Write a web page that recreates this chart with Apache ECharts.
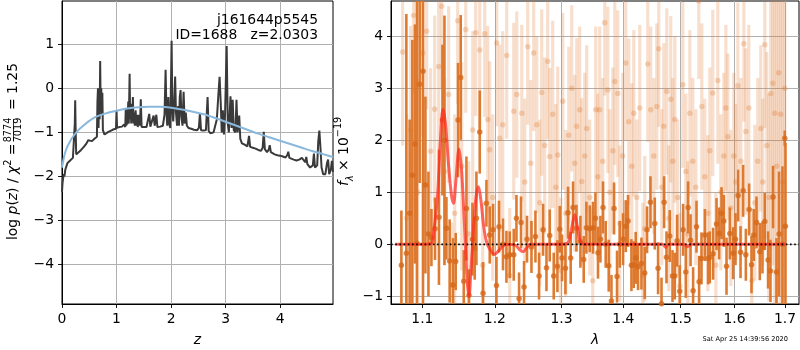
<!DOCTYPE html>
<html>
<head>
<meta charset="utf-8">
<script src="https://cdn.jsdelivr.net/npm/echarts@6/dist/echarts.min.js"></script>
<style>
  html, body { margin: 0; padding: 0; background: #fff; }
  #chart { width: 800px; height: 350px; }
</style>
</head>
<body>
<div id="chart"></div>
<script>
const FONT = 'DejaVu Sans';

// Tick positions
const zTicks = [0, 1, 2, 3, 4];
const logpTicks = [-4, -3, -2, -1, 0, 1];
const waveTicks = [1.1, 1.2, 1.3, 1.4, 1.5, 1.6, 1.7];
const fluxTicks = [-1, 0, 1, 2, 3, 4];

// Axis limits
const zRange = [0, 4.97];
const logpRange = [-4.90, 1.984];
const waveRange = [1.0593, 1.7289];
const fluxRange = [-1.147, 4.68];

// Redshift probability: [z, log p(z)]
const pz = [
  [0.000,-2.35],[0.010,-2.15],[0.020,-2.05],[0.030,-1.95],[0.045,-2.00],[0.060,-1.85],[0.080,-1.85],
  [0.100,-1.70],[0.120,-1.72],[0.140,-1.65],[0.170,-1.62],[0.200,-1.58],[0.225,-1.55],[0.235,-0.80],
  [0.242,-0.27],[0.250,-0.90],[0.260,-1.50],[0.300,-1.46],[0.350,-1.40],[0.400,-1.33],[0.450,-1.25],
  [0.480,-1.18],[0.500,-1.20],[0.550,-1.20],[0.600,-1.14],[0.640,-1.10],[0.650,-0.30],[0.660,0.00],
  [0.670,-0.90],[0.680,-0.20],[0.690,-0.70],[0.700,0.62],[0.710,-0.50],[0.720,0.00],[0.730,-0.60],
  [0.740,-0.10],[0.750,-0.95],[0.780,-1.05],[0.800,-1.03],[0.850,-0.99],[0.900,-0.96],[0.950,-0.93],
  [0.990,-0.92],[1.000,-0.50],[1.010,-0.90],[1.050,-0.88],[1.080,-0.85],[1.100,-0.87],[1.120,-0.85],
  [1.140,-0.82],[1.160,-0.88],[1.170,-0.45],[1.180,-0.85],[1.190,-0.55],[1.200,-0.82],[1.215,-0.30],
  [1.225,-0.80],[1.240,0.33],[1.250,-0.70],[1.260,-0.40],[1.270,-0.80],[1.280,-0.35],[1.290,-0.75],
  [1.300,-0.20],[1.310,-0.80],[1.320,-0.55],[1.335,-0.85],[1.350,-0.50],[1.365,-0.85],[1.380,-0.60],
  [1.390,-0.88],[1.410,-0.60],[1.430,-0.85],[1.445,-0.25],[1.460,-0.88],[1.500,-0.88],[1.550,-0.88],
  [1.580,-0.85],[1.600,-0.58],[1.620,-0.87],[1.650,-0.85],[1.680,-0.62],[1.700,-0.85],[1.730,-0.60],
  [1.750,-0.88],[1.800,-0.87],[1.850,-0.85],[1.880,-0.60],[1.900,0.42],[1.915,-0.50],[1.930,-0.85],
  [1.950,-0.20],[1.965,-0.80],[1.985,-0.90],[2.000,0.20],[2.010,1.08],[2.025,-0.55],[2.040,-0.75],
  [2.060,-0.25],[2.075,0.27],[2.090,-0.55],[2.110,-0.85],[2.130,-0.40],[2.145,-0.85],[2.160,-0.20],
  [2.175,-0.04],[2.190,-0.65],[2.210,-0.85],[2.230,-0.08],[2.250,-0.80],[2.270,-0.55],[2.290,-0.85],
  [2.320,-0.90],[2.370,-0.92],[2.420,-0.94],[2.480,-0.95],[2.510,-0.90],[2.530,-0.56],[2.550,-0.95],
  [2.600,-0.96],[2.640,-0.95],[2.670,-0.20],[2.690,-0.97],[2.720,-1.02],[2.750,-1.03],[2.780,-1.00],
  [2.810,-0.98],[2.840,-0.70],[2.870,-0.10],[2.890,0.26],[2.910,-0.30],[2.930,-1.00],[2.950,-0.50],
  [2.970,-1.05],[2.990,-0.60],[3.020,0.96],[3.040,-0.80],[3.060,-1.00],[3.090,-0.18],[3.110,-0.90],
  [3.130,-0.26],[3.150,-0.95],[3.180,-1.00],[3.200,-0.26],[3.220,-1.00],[3.250,-0.62],[3.270,-1.15],
  [3.300,-1.25],[3.350,-1.28],[3.400,-1.32],[3.430,-1.08],[3.450,-1.33],[3.500,-1.35],[3.550,-1.37],
  [3.600,-1.40],[3.650,-1.42],[3.680,-1.35],[3.700,-0.99],[3.720,-1.38],[3.760,-1.45],[3.790,-1.40],
  [3.810,-1.29],[3.830,-1.45],[3.900,-1.50],[3.950,-1.52],[4.000,-1.53],[4.050,-1.55],[4.100,-1.57],
  [4.130,-1.52],[4.150,-1.44],[4.170,-1.58],[4.250,-1.62],[4.300,-1.64],[4.350,-1.62],[4.400,-1.58],
  [4.430,-1.60],[4.460,-1.68],[4.480,-1.56],[4.500,-1.72],[4.550,-1.80],[4.600,-1.75],[4.620,-1.48],
  [4.640,-1.80],[4.680,-1.75],[4.700,-1.20],[4.720,-0.96],[4.740,-1.35],[4.760,-1.80],[4.790,-1.95],
  [4.830,-1.95],[4.860,-1.70],[4.880,-1.62],[4.900,-1.95],[4.930,-1.85],[4.950,-1.65],[4.970,-1.90]
];

// Redshift prior: [z, log prior]
const prior = [
  [0.00,-1.80],[0.03,-1.60],[0.06,-1.45],[0.10,-1.32],[0.15,-1.20],[0.20,-1.10],[0.30,-0.95],
  [0.40,-0.84],[0.50,-0.74],[0.60,-0.66],[0.80,-0.57],[1.00,-0.51],[1.20,-0.46],[1.40,-0.43],
  [1.60,-0.42],[1.80,-0.42],[2.00,-0.44],[2.20,-0.48],[2.40,-0.53],[2.60,-0.59],[2.80,-0.67],
  [3.00,-0.76],[3.20,-0.85],[3.40,-0.94],[3.60,-1.03],[3.80,-1.11],[4.00,-1.19],[4.20,-1.27],
  [4.40,-1.35],[4.60,-1.43],[4.80,-1.50],[4.97,-1.56]
];

// Spectrum (primary beam): [wavelength, flux, error]
const spec = [
  [1.0726,-0.40,1.05],[1.0790,-0.17,4.60],[1.0833,0.60,1.80],[1.0868,1.33,2.60],[1.0902,1.93,2.30],
  [1.0928,0.02,4.80],[1.0964,3.08,1.90],[1.1008,3.33,4.50],[1.1040,1.14,1.70],[1.1080,0.20,1.20],
  [1.1120,0.13,0.55],[1.1168,0.30,0.60],[1.1221,0.52,1.30],[1.1268,2.39,1.45],[1.1295,2.00,2.40],
  [1.1322,0.31,0.60],[1.1366,-0.32,0.80],[1.1412,-0.78,0.90],[1.1449,-0.33,0.55],[1.1481,2.39,1.10],
  [1.1518,3.21,1.20],[1.1560,-0.71,0.60],[1.1597,0.69,1.00],[1.1633,-0.98,0.50],[1.1681,0.10,0.70],
  [1.1713,-0.08,0.60],[1.1737,0.50,0.90],[1.1784,2.16,0.80],[1.1831,-0.94,0.60],[1.1879,0.79,0.45],
  [1.1926,0.18,0.55],[1.1974,0.28,0.50],[1.2023,-0.79,0.55],[1.2060,0.34,0.50],[1.2118,0.00,0.50],
  [1.2168,-0.24,0.50],[1.2216,-0.20,0.45],[1.2275,-0.20,0.50],[1.2315,0.50,0.45],[1.2354,-1.04,0.50],
  [1.2383,0.42,0.50],[1.2428,-0.82,0.50],[1.2472,0.10,0.45],[1.2539,-0.05,0.50],[1.2599,0.15,0.50],
  [1.2654,-0.61,0.45],[1.2715,0.28,0.50],[1.2767,-0.45,0.45],[1.2817,0.17,0.50],[1.2879,-0.61,0.45],
  [1.2936,-0.42,0.50],[1.2972,0.29,0.45],[1.3008,-0.26,0.45],[1.3061,-0.46,0.50],[1.3102,0.61,0.50],
  [1.3144,-0.26,0.50],[1.3181,0.71,0.50],[1.3235,0.31,0.45],[1.3298,0.05,0.50],[1.3351,-0.29,0.45],
  [1.3394,0.32,0.50],[1.3448,0.30,0.45],[1.3501,0.32,0.50],[1.3540,0.50,0.50],[1.3582,-0.16,0.50],
  [1.3621,0.10,0.45],[1.3664,0.71,0.50],[1.3708,0.00,0.45],[1.3758,-0.41,0.50],[1.3803,-1.09,0.50],
  [1.3846,0.69,0.50],[1.3896,-0.62,0.50],[1.3941,0.00,0.45],[1.3997,0.10,0.50],[1.4042,0.35,0.50],
  [1.4081,0.45,0.50],[1.4138,-0.40,0.50],[1.4177,-0.39,0.45],[1.4211,-0.26,0.50],[1.4251,-0.43,0.45],
  [1.4309,-0.37,0.50],[1.4366,-0.55,0.50],[1.4406,0.28,0.45],[1.4465,0.81,0.50],[1.4540,0.40,0.50],
  [1.4598,-0.46,0.50],[1.4658,-1.14,0.50],[1.4704,0.81,0.50],[1.4746,-0.25,0.50],[1.4804,0.16,0.50],
  [1.4853,-0.61,0.50],[1.4894,-0.61,0.45],[1.4935,0.07,0.50],[1.4983,-0.90,0.50],[1.5043,0.28,0.50],
  [1.5092,-0.53,0.50],[1.5134,0.71,0.50],[1.5178,0.08,0.50],[1.5225,-0.89,0.45],[1.5287,0.34,0.50],
  [1.5335,-0.72,0.50],[1.5379,-0.27,0.50],[1.5441,0.18,0.50],[1.5502,-0.27,0.50],[1.5533,-0.25,0.50],
  [1.5595,-0.18,0.50],[1.5659,0.39,0.50],[1.5708,0.21,0.50],[1.5753,0.60,0.50],[1.5797,0.45,0.50],
  [1.5848,-0.42,0.55],[1.5911,0.21,0.50],[1.5974,-0.17,0.50],[1.6020,0.10,0.50],[1.6070,0.94,0.50],
  [1.6117,-0.15,0.50],[1.6167,1.03,0.50],[1.6220,-0.20,0.50],[1.6284,0.67,0.50],[1.6331,-0.39,0.55],
  [1.6376,0.18,0.50],[1.6429,0.42,0.50],[1.6494,-0.14,0.55],[1.6547,-0.06,0.50],[1.6593,0.44,0.55],
  [1.6659,-0.30,0.55],[1.6707,-0.51,0.60],[1.6759,0.91,0.60],[1.6828,-0.53,0.65],[1.6880,0.20,1.20],
  [1.6949,0.00,1.50],[1.6996,2.04,0.15],[1.7010,0.35,1.60]
];

// Spectrum (second beam, drawn faint): [wavelength, flux, error]
const specOther = [
  [1.0742,3.70,1.80],[1.0794,0.50,2.00],[1.0846,2.20,2.00],[1.0885,4.40,1.50],[1.0938,1.00,2.20],
  [1.1004,3.68,1.60],[1.1056,4.10,1.50],[1.1109,1.79,1.60],[1.1163,2.60,1.80],[1.1217,3.42,1.80],
  [1.1257,4.58,1.60],[1.1298,1.40,1.80],[1.1352,2.88,1.70],[1.1393,-0.78,1.20],[1.1435,0.60,1.90],
  [1.1476,4.30,1.60],[1.1532,1.50,2.00],[1.1587,4.13,1.60],[1.1629,0.20,1.40],[1.1685,2.20,1.90],
  [1.1727,4.07,1.60],[1.1784,3.74,1.50],[1.1826,-0.40,1.20],[1.1855,4.05,1.60],[1.1898,2.40,1.80],
  [1.1926,1.82,1.70],[1.1969,0.90,1.60],[1.2027,3.87,1.60],[1.2070,2.04,1.80],[1.2114,2.30,1.80],
  [1.2172,3.63,1.60],[1.2216,-0.60,1.30],[1.2275,2.56,1.70],[1.2320,2.88,1.60],[1.2394,2.52,1.70],
  [1.2438,1.20,1.60],[1.2483,3.80,1.50],[1.2528,1.56,1.60],[1.2573,3.68,1.50],[1.2619,2.30,1.70],
  [1.2664,0.80,1.60],[1.2694,2.92,1.60],[1.2740,1.90,1.70],[1.2786,3.52,1.50],[1.2817,1.69,1.70],
  [1.2863,2.50,1.80],[1.2910,1.10,1.60],[1.2941,1.72,1.70],[1.2988,-0.50,1.40],[1.3019,2.75,1.70],
  [1.3066,0.60,1.60],[1.3113,2.10,1.70],[1.3160,3.00,1.60],[1.3208,1.56,1.70],[1.3240,2.27,1.70],
  [1.3287,2.59,1.60],[1.3319,1.21,1.60],[1.3367,1.70,1.60],[1.3399,2.23,1.60],[1.3448,0.90,1.50],
  [1.3496,-0.70,1.40],[1.3545,2.59,1.60],[1.3577,1.30,1.60],[1.3610,2.59,1.60],[1.3659,1.60,1.60],
  [1.3692,4.26,1.40],[1.3742,2.97,1.60],[1.3775,1.00,1.60],[1.3825,1.80,1.60],[1.3858,3.13,1.60],
  [1.3908,2.90,1.60],[1.3941,0.40,1.50],[1.3991,1.70,1.60],[1.4042,3.49,1.50],[1.4093,2.36,1.60],
  [1.4144,1.50,1.60],[1.4178,2.52,1.60],[1.4229,0.90,1.50],[1.4280,2.62,1.60],[1.4332,-0.60,1.40],
  [1.4366,0.30,1.40],[1.4418,3.47,1.50],[1.4470,2.59,1.60],[1.4523,1.70,1.50],[1.4575,2.65,1.60],
  [1.4610,3.76,1.50],[1.4663,1.10,1.50],[1.4698,2.27,1.60],[1.4751,2.94,1.60],[1.4787,0.50,1.40],
  [1.4822,2.79,1.60],[1.4858,1.60,1.60],[1.4894,2.40,1.60],[1.4947,0.90,1.50],[1.4983,-0.80,1.40],
  [1.5038,3.07,1.60],[1.5092,1.40,1.50],[1.5128,0.20,1.40],[1.5165,2.52,1.60],[1.5219,1.60,1.60],
  [1.5274,1.10,1.50],[1.5329,4.68,1.50],[1.5385,2.65,1.60],[1.5440,1.30,1.50],[1.5496,0.60,1.50],
  [1.5533,1.80,1.60],[1.5589,2.91,1.60],[1.5646,-0.40,1.40],[1.5683,3.15,1.60],[1.5740,1.00,1.50],
  [1.5797,1.70,1.60],[1.5835,2.62,1.60],[1.5873,2.07,1.60],[1.5930,0.70,1.50],[1.5988,1.70,1.60],
  [1.6026,1.20,1.50],[1.6065,3.05,1.60],[1.6123,1.60,1.60],[1.6181,3.86,1.50],[1.6220,2.17,1.60],
  [1.6278,2.62,1.60],[1.6336,-0.70,1.40],[1.6395,0.80,1.50],[1.6454,1.60,1.60],[1.6513,2.23,1.60],
  [1.6553,1.20,1.60],[1.6593,3.84,1.60],[1.6633,1.90,1.80],[1.6673,0.90,2.00],[1.6713,2.90,3.00],
  [1.6753,3.10,3.50],[1.6793,2.52,4.00],[1.6833,1.50,4.50],[1.6874,3.30,4.20],[1.6914,2.50,4.50],
  [1.6955,1.20,4.50],[1.6996,3.00,4.00]
];

// Best-fit model: [wavelength, flux]
const model = [
  [1.0650,0.00],[1.1000,0.00],[1.1120,0.02],[1.1150,0.25],[1.1200,0.90],[1.1240,2.00],[1.1276,2.60],
  [1.1310,2.30],[1.1350,1.55],[1.1390,0.95],[1.1419,0.79],[1.1450,1.20],[1.1495,1.83],[1.1525,1.50],
  [1.1555,0.80],[1.1585,-0.10],[1.1610,-0.75],[1.1633,-1.00],[1.1660,-0.50],[1.1700,0.40],[1.1735,0.95],
  [1.1766,1.11],[1.1800,0.85],[1.1840,0.35],[1.1880,0.05],[1.1940,-0.12],[1.1998,-0.19],[1.2080,-0.08],
  [1.2160,0.00],[1.2300,-0.02],[1.2360,-0.10],[1.2413,-0.14],[1.2460,-0.08],[1.2520,0.00],[1.3050,0.00],
  [1.3110,0.05],[1.3160,0.32],[1.3208,0.57],[1.3255,0.30],[1.3300,0.04],[1.3360,0.00],[1.4680,0.00],
  [1.4730,-0.06],[1.4780,0.00],[1.5050,0.00],[1.5120,-0.04],[1.5200,0.00],[1.7000,0.00]
];

const lg = Math.log10;
const minusFmt = v => String(v).replace('-', '\u2212');
const tickLabel = { color: '#000', fontSize: 13.9, fontFamily: FONT, margin: 8 };
const axisLine = { show: true, onZero: false, lineStyle: { color: '#000', width: 1 } };
const axisTickStyle = (vals) => ({ show: true, length: 4, lineStyle: { color: '#000', width: 0.9 }, customValues: vals });
const gridLine = { show: true, lineStyle: { color: '#b0b0b0', width: 1 } };

// Vertical error bars drawn through the spectrum axes
function errorBars(rows, color, opacity, width, z) {
  return {
    type: 'custom', xAxisIndex: 1, yAxisIndex: 1, clip: true, silent: true, z,
    data: rows.map(r => [lg(r[0]), r[1], r[2]]),
    renderItem(params, api) {
      const x = api.value(0), y = api.value(1), e = api.value(2);
      const hi = api.coord([x, y + e]);
      const lo = api.coord([x, y - e]);
      return {
        type: 'rect',
        shape: { x: hi[0] - width / 2, y: hi[1], width: width, height: lo[1] - hi[1] },
        style: { fill: color, opacity: opacity }
      };
    }
  };
}

const chart = echarts.init(document.getElementById('chart'), null, { renderer: 'canvas' });

chart.setOption({
  animation: false,
  backgroundColor: '#fff',
  grid: [
    { left: 62, top: 1, width: 271, height: 303, show: true, borderColor: '#000', borderWidth: 1, backgroundColor: 'transparent', outerBoundsMode: 'none' },
    { left: 391, top: 1, width: 408, height: 303, show: true, borderColor: '#000', borderWidth: 1, backgroundColor: 'transparent', outerBoundsMode: 'none' }
  ],
  xAxis: [
    {
      gridIndex: 0, type: 'value', min: zRange[0], max: zRange[1],
      axisLine, axisTick: axisTickStyle(zTicks),
      axisLabel: Object.assign({ customValues: zTicks }, tickLabel),
      splitLine: gridLine,
      name: 'z', nameLocation: 'middle', nameGap: 29,
      nameTextStyle: { fontSize: 13.9, fontFamily: FONT, fontStyle: 'italic', color: '#000' }
    },
    {
      gridIndex: 1, type: 'value', min: lg(waveRange[0]), max: lg(waveRange[1]),
      axisLine, axisTick: axisTickStyle(waveTicks.map(lg)),
      axisLabel: Object.assign({ customValues: waveTicks.map(lg), formatter: v => Math.pow(10, v).toFixed(1) }, tickLabel),
      splitLine: gridLine,
      name: '\u03bb', nameLocation: 'middle', nameGap: 29,
      nameTextStyle: { fontSize: 13.9, fontFamily: FONT, fontStyle: 'italic', color: '#000' }
    }
  ],
  yAxis: [
    {
      gridIndex: 0, type: 'value', min: logpRange[0], max: logpRange[1],
      axisLine, axisTick: axisTickStyle(logpTicks),
      axisLabel: Object.assign({ customValues: logpTicks, formatter: minusFmt }, tickLabel),
      splitLine: gridLine
    },
    {
      gridIndex: 1, type: 'value', min: fluxRange[0], max: fluxRange[1],
      axisLine, axisTick: axisTickStyle(fluxTicks),
      axisLabel: Object.assign({ customValues: fluxTicks, formatter: minusFmt }, tickLabel),
      splitLine: gridLine
    }
  ],
  series: [
    {
      type: 'line', xAxisIndex: 0, yAxisIndex: 0, data: pz, showSymbol: false, silent: true, z: 3,
      lineStyle: { color: '#3a3a3a', width: 2 }
    },
    {
      type: 'line', xAxisIndex: 0, yAxisIndex: 0, data: prior, showSymbol: false, silent: true, smooth: 0.3, z: 4,
      lineStyle: { color: '#8ab8dc', width: 2 }
    },
    errorBars(specOther, '#e07a2c', 0.24, 3.2, 2),
    {
      type: 'scatter', xAxisIndex: 1, yAxisIndex: 1, silent: true, z: 2,
      data: specOther.map(r => [lg(r[0]), r[1]]),
      symbolSize: 5.5, itemStyle: { color: '#dc7428', opacity: 0.28 }
    },
    errorBars(spec, '#dc7427', 0.95, 2.6, 3),
    {
      type: 'scatter', xAxisIndex: 1, yAxisIndex: 1, silent: true, z: 4,
      data: spec.map(r => [lg(r[0]), r[1]]),
      symbolSize: 5.5, itemStyle: { color: '#d4691a' }
    },
    {
      type: 'line', xAxisIndex: 1, yAxisIndex: 1, silent: true, z: 5, showSymbol: false, smooth: 0.35,
      data: model.map(r => [lg(r[0]), r[1]]),
      lineStyle: { color: 'rgba(255,40,30,0.7)', width: 3 }
    },
    {
      type: 'line', xAxisIndex: 1, yAxisIndex: 1, silent: true, z: 6, showSymbol: false,
      data: [[lg(waveRange[0]), 0], [lg(waveRange[1]), 0]],
      lineStyle: { color: '#000', width: 1.6, type: [1.6, 2.6] }
    }
  ],
  graphic: [
    {
      type: 'text', x: 318, y: 20, z: 10,
      style: { text: 'j161644p5545', align: 'right', verticalAlign: 'middle', fontSize: 13.9, fontFamily: FONT, fill: '#000' }
    },
    {
      type: 'text', x: 318, y: 35, z: 10,
      style: { text: 'ID=1688   z=2.0303', align: 'right', verticalAlign: 'middle', fontSize: 13.9, fontFamily: FONT, fill: '#000' }
    },
    {
      type: 'group', x: 13, y: 240, rotation: Math.PI / 2,
      children: [
        {
          type: 'text', x: 0, y: 0,
          style: {
            text: '{n|log }{i|p}{n|(}{i|z}{n|) / }{i|\u03c7}{s|2}{n| =}',
            align: 'left', verticalAlign: 'middle',
            rich: {
              n: { fontSize: 13.9, fontFamily: FONT, fill: '#000', lineHeight: 20 },
              i: { fontSize: 13.9, fontFamily: FONT, fontStyle: 'italic', fill: '#000', lineHeight: 20 },
              s: { fontSize: 9.7, fontFamily: FONT, fill: '#000', verticalAlign: 'top', lineHeight: 20 }
            }
          }
        },
        { type: 'text', x: 110, y: -4.5, style: { text: '8774', align: 'center', verticalAlign: 'middle', fontSize: 9.7, fontFamily: FONT, fill: '#000' } },
        { type: 'line', shape: { x1: 99, y1: 0.5, x2: 121, y2: 0.5 }, style: { stroke: '#000', lineWidth: 0.8 } },
        { type: 'text', x: 110, y: 5.5, style: { text: '7019', align: 'center', verticalAlign: 'middle', fontSize: 9.7, fontFamily: FONT, fill: '#000' } },
        { type: 'text', x: 130, y: 0, style: { text: '= 1.25', align: 'left', verticalAlign: 'middle', fontSize: 13.9, fontFamily: FONT, fill: '#000' } }
      ]
    },
    {
      type: 'group', x: 344, y: 186, rotation: Math.PI / 2,
      children: [
        {
          type: 'text', x: 0, y: 0,
          style: {
            text: '{i|f}{sub|\u03bb}{n| \u00d7 10}{sup|\u221219}',
            align: 'left', verticalAlign: 'middle',
            rich: {
              i: { fontSize: 13.9, fontFamily: FONT, fontStyle: 'italic', fill: '#000', lineHeight: 22 },
              sub: { fontSize: 9.7, fontFamily: FONT, fontStyle: 'italic', fill: '#000', verticalAlign: 'bottom', lineHeight: 22 },
              n: { fontSize: 13.9, fontFamily: FONT, fill: '#000', lineHeight: 22 },
              sup: { fontSize: 9.7, fontFamily: FONT, fill: '#000', verticalAlign: 'top', lineHeight: 22 }
            }
          }
        }
      ]
    },
    {
      type: 'text', x: 788, y: 339,
      style: { text: 'Sat Apr 25 14:39:56 2020', align: 'right', verticalAlign: 'middle', fontSize: 6.6, fontFamily: FONT, fill: '#000' }
    }
  ]
});
</script>
</body>
</html>
